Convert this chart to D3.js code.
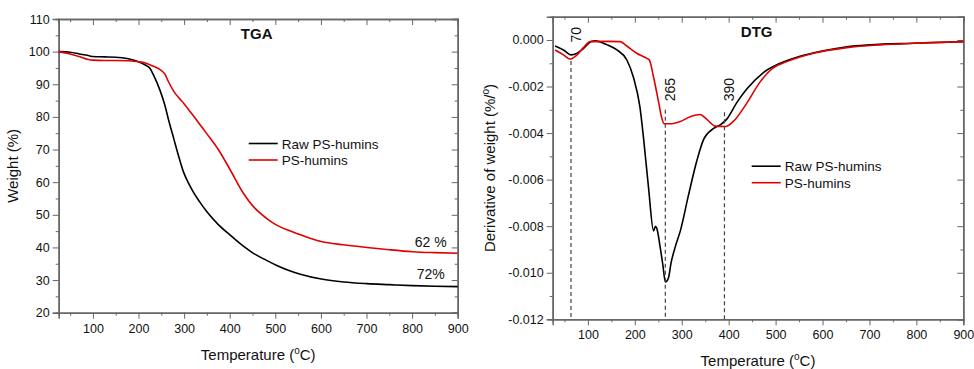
<!DOCTYPE html>
<meta charset="utf-8">
<script src="https://d3js.org/d3.v7.min.js"></script>
<style>
  * { margin: 0; padding: 0; }
  body { background: #fff; }
  svg text { font-family: "Liberation Sans", Arial, Helvetica, sans-serif; fill: #111; }
  .axis path, .axis line { stroke: #666; }
  .axis path { stroke-width: 1.5px; }
  .axis text { font-size: 12.5px; }
  .ttl { font-size: 15px; }
  .leg { font-size: 13.5px; }
</style>
<body>
<div id="chart"></div>
<script>
// TGA weight curves (temperature in C, weight in %)
var tgaTemp = [25, 50, 70, 90, 100, 125, 150, 175, 200, 215, 225, 233, 247, 258, 265, 277, 290, 299, 310, 320, 335, 350, 375, 401, 430, 452, 480, 501, 530, 555, 601, 650, 701, 750, 801, 850, 900];
var tgaRaw  = [100, 99.8, 99.3, 98.8, 98.5, 98.4, 98.3, 97.9, 96.9, 95.9, 94.9, 92.8, 88.2, 83.5, 79.6, 73.5, 67.0, 63.0, 59.6, 57.0, 53.8, 50.9, 47.0, 43.8, 40.4, 38.2, 36.1, 34.6, 32.9, 31.8, 30.3, 29.4, 28.9, 28.6, 28.3, 28.1, 28.0];
var tgaPs   = [100, 99.3, 98.5, 97.6, 97.4, 97.3, 97.3, 97.2, 96.9, 96.5, 96.0, 95.5, 94.5, 93.1, 91.0, 87.9, 85.6, 84.2, 82.2, 80.4, 77.6, 74.8, 70.0, 63.8, 56.6, 52.5, 49.0, 47.0, 45.2, 43.9, 41.8, 40.8, 40.0, 39.3, 38.7, 38.4, 38.2];

// DTG derivative curves
var dtgRawT = [30, 48, 64, 77, 91, 107, 116, 140, 162, 183, 197, 211, 219, 229, 240, 244, 247, 254, 260, 265, 272, 277, 286, 297, 314, 332, 346, 368, 382, 396, 417, 439, 474, 510, 552, 602, 652, 701, 794, 900];
var dtgRaw  = [-0.00026, -0.00043, -0.00064, -0.00057, -0.00036, -0.00007, -0.00004, -0.0002, -0.00043, -0.00086, -0.0016, -0.0029, -0.0043, -0.0063, -0.0082, -0.0080, -0.0081, -0.0089, -0.0097, -0.0104, -0.0102, -0.0096, -0.0089, -0.0082, -0.0067, -0.0052, -0.0043, -0.0038, -0.00365, -0.0034, -0.0027, -0.0021, -0.0014, -0.001, -0.0007, -0.00046, -0.00029, -0.00021, -0.00014, -0.00007];
var dtgPsT  = [30, 48, 62, 77, 91, 105, 140, 169, 183, 204, 226, 231, 240, 251, 258, 263, 275, 297, 318, 339, 353, 371, 393, 410, 439, 467, 495, 524, 581, 652, 723, 794, 900];
var dtgPs   = [-0.00043, -0.00064, -0.00082, -0.00064, -0.00032, -0.00007, -0.00006, -0.00007, -0.00026, -0.00057, -0.00079, -0.00086, -0.0016, -0.0027, -0.0034, -0.0036, -0.0036, -0.0035, -0.0033, -0.0032, -0.0034, -0.0037, -0.00372, -0.0035, -0.0027, -0.0018, -0.0012, -0.00093, -0.00057, -0.00033, -0.00021, -0.00014, -0.00007];

// dashed peak markers on DTG
var peakT = [64, 265, 391];
var peakLabels = ["70", "265", "390"];
var peakTop = [-0.0009, -0.0030, -0.0031];

var seriesNames = ["Raw PS-humins", "PS-humins"];
var seriesColors = ["#000", "#e00000"];

var tgaYTicks = [20, 30, 40, 50, 60, 70, 80, 90, 100, 110];
var dtgYTicks = [-0.012, -0.010, -0.008, -0.006, -0.004, -0.002, 0.000];
var xTicks = [100, 200, 300, 400, 500, 600, 700, 800, 900];

var svg = d3.select("#chart").append("svg")
  .attr("width", 974)
  .attr("height", 369);

function panel(opt) {
  var g = svg.append("g").attr("transform", "translate(" + opt.left + "," + opt.top + ")");
  var x = d3.scaleLinear().domain([25, 900]).range([0, opt.w]);
  var y = d3.scaleLinear().domain(opt.yDomain).range([opt.h, 0]);

  var xMinor = d3.range(50, 901, 100);
  var yMinor = opt.yMinor;

  // minor ticks first, then major with labels
  g.append("g").attr("class", "axis").attr("transform", "translate(0," + opt.h + ")")
    .call(d3.axisBottom(x).tickValues(xMinor).tickSize(3).tickFormat(""));
  g.append("g").attr("class", "axis").attr("transform", "translate(0," + opt.h + ")")
    .call(d3.axisBottom(x).tickValues(xTicks).tickSize(6).tickPadding(5).tickFormat(d3.format("d")));
  g.append("g").attr("class", "axis")
    .call(d3.axisTop(x).tickValues(xMinor).tickSize(-3).tickFormat(""));
  g.append("g").attr("class", "axis")
    .call(d3.axisTop(x).tickValues(xTicks).tickSize(-6).tickFormat(""));

  g.append("g").attr("class", "axis")
    .call(d3.axisLeft(y).tickValues(yMinor).tickSize(3).tickFormat(""));
  g.append("g").attr("class", "axis")
    .call(d3.axisLeft(y).tickValues(opt.yTicks).tickSize(6).tickPadding(3).tickFormat(opt.fmt));
  g.append("g").attr("class", "axis").attr("transform", "translate(" + opt.w + ",0)")
    .call(d3.axisRight(y).tickValues(yMinor).tickSize(-3).tickFormat(""));
  g.append("g").attr("class", "axis").attr("transform", "translate(" + opt.w + ",0)")
    .call(d3.axisRight(y).tickValues(opt.yTicks).tickSize(-6).tickFormat(""));

  g.selectAll(".axis .domain").attr("stroke", "#666");
  g.selectAll(".axis text").attr("fill", "#111");

  // curves
  var line = d3.line()
    .x(function(d) { return x(d[0]); })
    .y(function(d) { return y(d[1]); })
    .curve(d3.curveMonotoneX);
  opt.series.forEach(function(s, i) {
    g.append("path")
      .datum(d3.zip(s.t, s.v))
      .attr("d", line)
      .attr("fill", "none")
      .attr("stroke", seriesColors[i])
      .attr("stroke-width", 1.6);
  });

  // title inside the box
  g.append("text")
    .attr("x", opt.titleX).attr("y", 20)
    .attr("text-anchor", "middle")
    .style("font-size", "15px").style("font-weight", "bold")
    .text(opt.title);

  // legend
  seriesNames.forEach(function(n, i) {
    var ly = opt.legY + i * 16.5;
    g.append("line")
      .attr("x1", opt.legX).attr("x2", opt.legX + 29)
      .attr("y1", ly).attr("y2", ly)
      .attr("stroke", seriesColors[i]).attr("stroke-width", 1.6);
    g.append("text").attr("class", "leg")
      .attr("x", opt.legX + 33).attr("y", ly + 5)
      .text(n);
  });

  // axis titles
  var xt = g.append("text").attr("class", "ttl")
    .attr("x", opt.w / 2).attr("y", opt.h + 47)
    .attr("text-anchor", "middle");
  xt.append("tspan").text("Temperature (");
  xt.append("tspan").attr("dy", -6).style("font-size", "10px").text("o");
  xt.append("tspan").attr("dy", 6).text("C)");

  var yt = g.append("text").attr("class", "ttl")
    .attr("transform", "translate(" + opt.yTitleX + "," + (opt.h / 2) + ") rotate(-90)")
    .attr("text-anchor", "middle");
  opt.yTitle.forEach(function(p) {
    var ts = yt.append("tspan").text(p.t);
    if (p.sup) ts.attr("dy", -6).style("font-size", "10px");
    if (p.down) ts.attr("dy", 6);
  });

  return { g: g, x: x, y: y };
}

// TGA
var tga = panel({
  left: 58.7, top: 19, w: 399, h: 293.7,
  yDomain: [20, 110], yTicks: tgaYTicks, yMinor: d3.range(25, 110, 10),
  fmt: d3.format("d"),
  series: [{ t: tgaTemp, v: tgaRaw }, { t: tgaTemp, v: tgaPs }],
  title: "TGA", titleX: 198,
  legX: 190, legY: 124.5,
  yTitleX: -41,
  yTitle: [{ t: "Weight (%)" }]
});
tga.g.append("text").attr("x", 388).attr("y", 228).attr("text-anchor", "end")
  .style("font-size", "14px").text("62 %");
tga.g.append("text").attr("x", 386).attr("y", 260).attr("text-anchor", "end")
  .style("font-size", "14px").text("72%");

// DTG
var dtg = panel({
  left: 552.7, top: 16.7, w: 410.6, h: 302.6,
  yDomain: [-0.012, 0.001], yTicks: dtgYTicks, yMinor: d3.range(-0.011, 0.0005, 0.002),
  fmt: function(d) { return d.toFixed(3); },
  series: [{ t: dtgRawT, v: dtgRaw }, { t: dtgPsT, v: dtgPs }],
  title: "DTG", titleX: 204,
  legX: 199, legY: 149.5,
  yTitleX: -58,
  yTitle: [{ t: "Derivative of weight (%/" }, { t: "o", sup: true }, { t: ")", down: true }]
});

peakT.forEach(function(t, i) {
  dtg.g.append("line")
    .attr("x1", dtg.x(t)).attr("x2", dtg.x(t))
    .attr("y1", dtg.y(peakTop[i])).attr("y2", dtg.y(-0.012))
    .attr("stroke", "#444").attr("stroke-width", 1.2)
    .attr("stroke-dasharray", "4,3");
  var ly = i === 0 ? 18 : 73;
  dtg.g.append("text")
    .attr("transform", "translate(" + (dtg.x(t) + 10) + "," + ly + ") rotate(-90)")
    .attr("text-anchor", "middle")
    .style("font-size", "14px")
    .text(peakLabels[i]);
});
</script>
</body>
